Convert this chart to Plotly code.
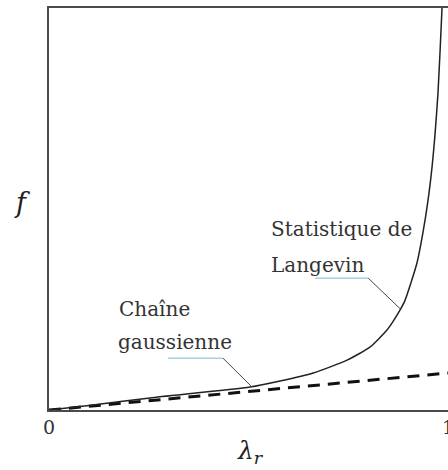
import plotly.graph_objects as go

# Data (λr normalised 0..1, f in arbitrary units)
lam_langevin = [0.0, 0.10, 0.253, 0.504, 0.579, 0.662, 0.747, 0.805, 0.847, 0.862,
                0.880, 0.892, 0.922, 0.937, 0.950, 0.960, 0.967, 0.975, 0.985, 0.988]
f_langevin = [0.0, 0.011, 0.030, 0.057, 0.072, 0.092, 0.124, 0.157, 0.199, 0.220,
              0.249, 0.272, 0.365, 0.440, 0.522, 0.604, 0.680, 0.790, 1.0, 1.08]
lam_gauss = [0.0, 1.0]
f_gauss = [0.0, 0.092]

x_tick_vals = [0, 1]
x_tick_text = ["0", "1"]

FONT = "DejaVu Serif"
TXT = "#333333"

fig = go.Figure()
fig.add_trace(go.Scatter(x=lam_gauss, y=f_gauss, mode="lines",
                         line=dict(color="#111", width=3, dash="12px,8px"),
                         hoverinfo="skip"))
fig.add_trace(go.Scatter(x=lam_langevin, y=f_langevin, mode="lines",
                         line=dict(color="#222", width=1.5, shape="spline", smoothing=0.6),
                         hoverinfo="skip"))

# callout lines (underline + pointer to curve)
blue = "#a9cde3"
dark = "#444"
fig.add_shape(type="line", x0=0.667, y0=0.328, x1=0.800, y1=0.328, line=dict(color=blue, width=1.5))
fig.add_shape(type="line", x0=0.800, y0=0.328, x1=0.880, y1=0.252, line=dict(color=dark, width=1))
fig.add_shape(type="line", x0=0.298, y0=0.129, x1=0.436, y1=0.129, line=dict(color=blue, width=1.5))
fig.add_shape(type="line", x0=0.436, y0=0.129, x1=0.509, y1=0.057, line=dict(color=dark, width=1))

def label(text, x, y):
    fig.add_annotation(text=text, x=x, y=y, xref="x", yref="y", xanchor="left",
                       yanchor="middle", showarrow=False,
                       font=dict(family=FONT, size=20, color=TXT))

label("Statistique de", 0.552, 0.450)
label("Langevin", 0.552, 0.360)
label("Chaîne", 0.170, 0.251)
label("gaussienne", 0.167, 0.169)

for v, t in zip(x_tick_vals, x_tick_text):
    fig.add_annotation(text=t, x=v, y=0, xref="x", yref="paper", yshift=-17,
                       xanchor="center", yanchor="middle", showarrow=False,
                       font=dict(family=FONT, size=19, color=TXT))

fig.add_annotation(text="<i>λ<sub>r</sub></i>", x=0.505, y=0, xref="x", yref="paper",
                   yshift=-42, xanchor="center", yanchor="middle", showarrow=False,
                   font=dict(family=FONT, size=25, color="#222"))
fig.add_annotation(text="<i>f</i>", x=0, y=0.515, xref="paper", yref="paper",
                   xshift=-27, xanchor="center", yanchor="middle", showarrow=False,
                   font=dict(family=FONT, size=27, color="#222"))

fig.update_layout(
    width=448, height=470,
    margin=dict(l=49, r=0, t=8, b=60),
    paper_bgcolor="white", plot_bgcolor="white",
    showlegend=False,
    xaxis=dict(range=[0, 1], showgrid=False, zeroline=False, showticklabels=False,
               ticks="", showline=True, mirror=True, linecolor="#4a4a4a", linewidth=2,
               automargin=False, fixedrange=True),
    yaxis=dict(range=[0, 1], showgrid=False, zeroline=False, showticklabels=False,
               ticks="", showline=True, mirror=False, linecolor="#4a4a4a", linewidth=2,
               automargin=False, fixedrange=True),
)

fig.write_html("out.html", config={"displayModeBar": False},
               post_script="document.body.style.margin='0';document.body.style.overflow='hidden';")
